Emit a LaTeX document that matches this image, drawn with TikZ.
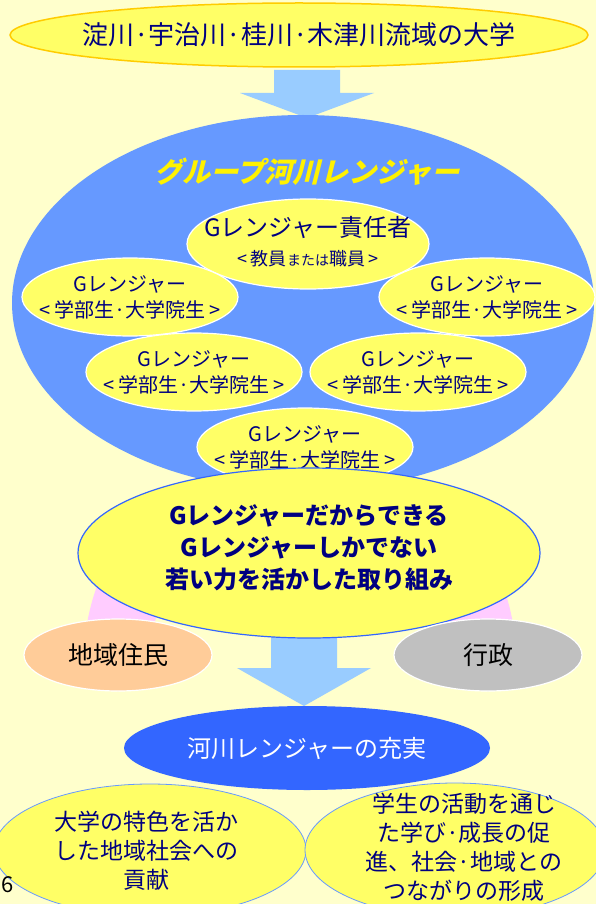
\documentclass[tikz,border=0pt]{standalone}
\usepackage{fontspec}
\setmainfont{Noto Sans CJK JP}
\newfontfamily\slantjp[FakeSlant=0.25]{Noto Sans CJK JP}
\usetikzlibrary{shapes.geometric,calc}
\definecolor{bgyellow}{HTML}{FFFFCC}
\definecolor{lemon}{HTML}{FFFF66}
\definecolor{gold}{HTML}{FFCC00}
\definecolor{navy}{HTML}{000080}
\definecolor{skyblue}{HTML}{99CCFF}
\definecolor{groupblue}{HTML}{6699FF}
\definecolor{deepblue}{HTML}{3366FF}
\definecolor{pinkband}{HTML}{FFCCFF}
\definecolor{peach}{HTML}{FFCC99}
\definecolor{silver}{HTML}{C0C0C0}
\tikzset{%
  blob/.style     = {ellipse, inner sep=0pt},%
  caption/.style  = {inner sep=0pt, align=center, text=navy},%
  ranger/.style   = {blob, fill=lemon, draw=white, line width=1.2pt,%
                     minimum width=216pt, minimum height=78pt},%
  partner/.style  = {blob, draw=white, line width=1.2pt,%
                     minimum width=188pt, minimum height=72pt},%
  outcome/.style  = {blob, fill=lemon, draw=groupblue, line width=0.8pt},%
  rtext/.style    = {caption, font=\fontsize{20}{26}\selectfont},%
  btext/.style    = {caption, font=\fontsize{23}{29}\selectfont}%
}
\newcommand\fatarrow[3]{% start, tip, head length
  \fill[skyblue] ($(#1)+(-33,0)$) -- ($(#1)+(33,0)$) -- ($(#2)+(33,-#3)$)%
    -- ($(#2)+(67,-#3)$) -- (#2) -- ($(#2)+(-67,-#3)$) -- ($(#2)+(-33,-#3)$) -- cycle;}
\newcommand\student{Gレンジャー\\<\hspace{4pt}学部生·大学院生\hspace{4pt}>}

\begin{document}
\begin{tikzpicture}[x=1pt,y=-1pt]
	\useasboundingbox (0,0) rectangle (596,904);
	\fill[bgyellow] (0,0) rectangle (596,904);
	% universities
	\node[blob, fill=lemon, draw=gold, line width=1.5pt, minimum width=578pt, minimum height=64pt] (uni) at (299,35) {};
	\node[caption, font=\fontsize{26}{30}\selectfont] (unit) at (uni) {淀川·宇治川·桂川·木津川流域の大学};
	\coordinate (a1) at (307,70);
	\coordinate (a1tip) at (307,118);
	\fatarrow{a1}{a1tip}{25}
	% pink band behind
	\coordinate (bandc) at (300,660);
	\begin{scope}
		\clip (0,500) rectangle (596,700);
		\draw[pinkband, line width=66pt] ($(bandc)+(-183,0)$) arc[start angle=180, end angle=360, radius=183];
	\end{scope}
	% group river rangers
	\node[blob, fill=groupblue, minimum width=582pt, minimum height=376pt] (group) at (303,303) {};
	\node[caption, text=yellow, font=\slantjp\bfseries\fontsize{28}{30}\selectfont] (groupt) at (307,172) {グループ河川レンジャー};
	\node[ranger, minimum width=242pt, minimum height=90pt] (chief) at (308,244) {};
	\node[caption, font=\fontsize{18}{29}\selectfont] (chieft) at (308,242) {{\fontsize{24}{29}\selectfont Gレンジャー責任者}\\%
		<\hspace{4pt}教員{\fontsize{14}{16}\selectfont または}職員\hspace{4pt}>};
	\node[ranger] (r1) at (130,297) {};
	\node[ranger] (r2) at (487,297) {};
	\node[ranger] (r3) at (194,372) {};
	\node[ranger] (r4) at (418,372) {};
	\node[ranger] (r5) at (305,447) {};
	\node[rtext] (r1t) at (r1) {\student};
	\node[rtext] (r2t) at (r2) {\student};
	\node[rtext] (r3t) at (r3) {\student};
	\node[rtext] (r4t) at (r4) {\student};
	\node[rtext] (r5t) at (r5) {\student};
	% what only they can do
	\coordinate (a2) at (304,600);
	\coordinate (a2tip) at (304,706);
	\fatarrow{a2}{a2tip}{38}
	\node[blob, fill=lemon, draw=deepblue, line width=1.2pt, minimum width=462pt, minimum height=170pt] (power) at (309,553) {};
	\node[caption, font=\bfseries\fontsize{24}{32}\selectfont] (powert) at (309,548)
		{Gレンジャーだからできる\\Gレンジャーしかでない\\若い力を活かした取り組み};
	\node[partner, fill=peach] (locals) at (118,655) {};
	\node[caption, text=black, font=\fontsize{25}{30}\selectfont] (localst) at (locals) {地域住民};
	\node[partner, fill=silver] (gov) at (488,655) {};
	\node[caption, text=black, font=\fontsize{25}{30}\selectfont] (govt) at (gov) {行政};
	% results
	\node[outcome, minimum width=312pt, minimum height=132pt] (contrib) at (150,850) {};
	\node[outcome, minimum width=300pt, minimum height=134pt] (growth) at (455,850) {};
	\node[btext] (contribt) at (146,851) {大学の特色を活か\\した地域社会への\\貢献};
	\node[btext] (growtht) at (464,847) {学生の活動を通じ\\た学び·成長の促\\進、社会·地域との\\つながりの形成};
	\node[blob, fill=deepblue, minimum width=366pt, minimum height=84pt] (enrich) at (307,748) {};
	\node[caption, text=white, font=\fontsize{24}{30}\selectfont] (enricht) at (enrich) {河川レンジャーの充実};
	\node[inner sep=0pt, font=\fontsize{22}{26}\selectfont] (pageno) at (8,885) {6};
\end{tikzpicture}
\end{document}
